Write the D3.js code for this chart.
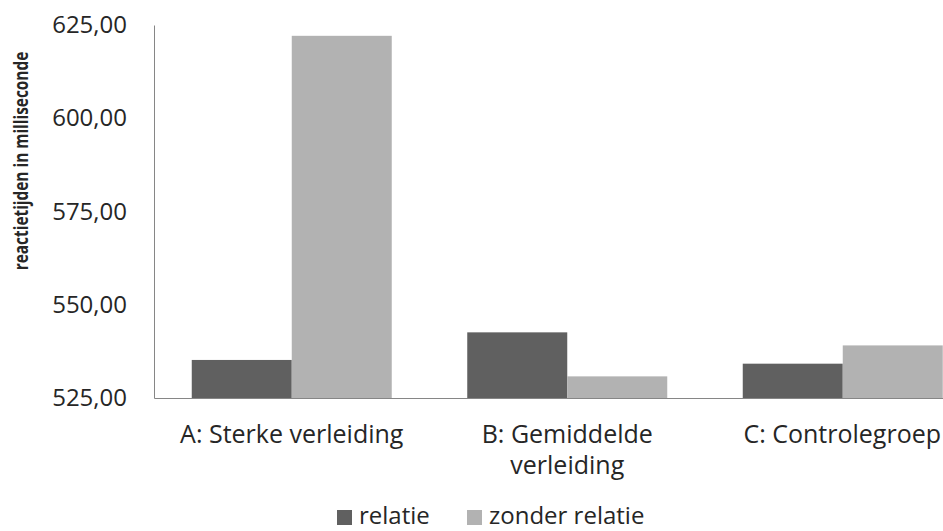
<!DOCTYPE html>
<html><head><meta charset="utf-8">
<script src="https://cdn.jsdelivr.net/npm/d3@7"></script>
<style>body{margin:0;background:#fff}svg{display:block}text{font-family:"Open Sans",sans-serif;fill:#262626}</style>
</head><body><div id="c"></div>
<script>
const categories = ["A: Sterke verleiding", "B: Gemiddelde verleiding", "C: Controlegroep"];
const categoryLines = [["A: Sterke verleiding"], ["B: Gemiddelde", "verleiding"], ["C: Controlegroep"]];
const seriesNames = ["relatie", "zonder relatie"];
const relatie = [535.2, 542.6, 534.2];
const zonderRelatie = [622.1, 530.8, 539.1];
const tickValues = [525, 550, 575, 600, 625];
const colors = ["#606060", "#b2b2b2"];

const W = 943, H = 531;
const svg = d3.select("#c").append("svg").attr("width", W).attr("height", H);
const mLeft = 154, mRight = 980.5, mTop = 25, mBottom = 398;

const y = d3.scaleLinear().domain([525, 625]).range([mBottom, mTop]);
const x = d3.scaleBand().domain(categories).range([mLeft, mRight]).paddingInner(0).paddingOuter(0);
const x1 = d3.scaleBand().domain(seriesNames).range([0, x.bandwidth()]).paddingInner(0).paddingOuter(0.3775);

// bars
const series = [relatie, zonderRelatie];
const data = [];
categories.forEach((c, i) => seriesNames.forEach((s, j) => data.push({c, s, v: series[j][i], j})));
svg.append("g").selectAll("rect").data(data).join("rect")
  .attr("x", d => x(d.c) + x1(d.s))
  .attr("width", x1.bandwidth())
  .attr("y", d => y(d.v))
  .attr("height", d => y(525) - y(d.v))
  .attr("fill", d => colors[d.j]);

// y axis
const yAxis = svg.append("g").attr("transform", `translate(${mLeft},0)`)
  .call(d3.axisLeft(y).tickValues(tickValues).tickSize(0).tickPadding(27)
    .tickFormat(d => d3.format(".2f")(d).replace(".", ",")));
yAxis.select(".domain").attr("stroke", "#868686").attr("stroke-width", 1);
yAxis.selectAll("text").attr("font-size", 24).attr("font-family", "Open Sans").attr("fill", "#262626");

// x axis
const xAxis = svg.append("g").attr("transform", `translate(0,${mBottom})`)
  .call(d3.axisBottom(x).tickSize(0).tickFormat(""));
xAxis.select(".domain").attr("stroke", "#868686").attr("stroke-width", 1);
xAxis.selectAll(".tick").each(function(d, i) {
  const t = d3.select(this).select("text").text(null).attr("font-size", 25)
    .attr("font-family", "Open Sans").attr("fill", "#262626").attr("y", 0).attr("dy", null);
  categoryLines[i].forEach((ln, k) => {
    t.append("tspan").attr("x", 0).attr("y", 45 + k * 31).text(ln);
  });
  // keep label inside the window
  const bb = this.getBoundingClientRect();
  if (bb.right > W - 2) t.attr("transform", `translate(${W - 2 - bb.right},0)`);
});

// y title (condensed like the original narrow font)
svg.append("text").attr("transform", "translate(28,161) rotate(-90) scale(0.77,1)")
  .attr("text-anchor", "middle").attr("font-size", 20).attr("font-weight", "bold")
  .text("reactietijden in milliseconde");

// legend
const lg = svg.append("g");
const legX = [337, 467];
seriesNames.forEach((s, j) => {
  lg.append("rect").attr("x", legX[j]).attr("y", 510).attr("width", 15).attr("height", 15).attr("fill", colors[j]);
  lg.append("text").attr("x", legX[j] + 22).attr("y", 524).attr("font-size", 24).text(s);
});
</script></body></html>
